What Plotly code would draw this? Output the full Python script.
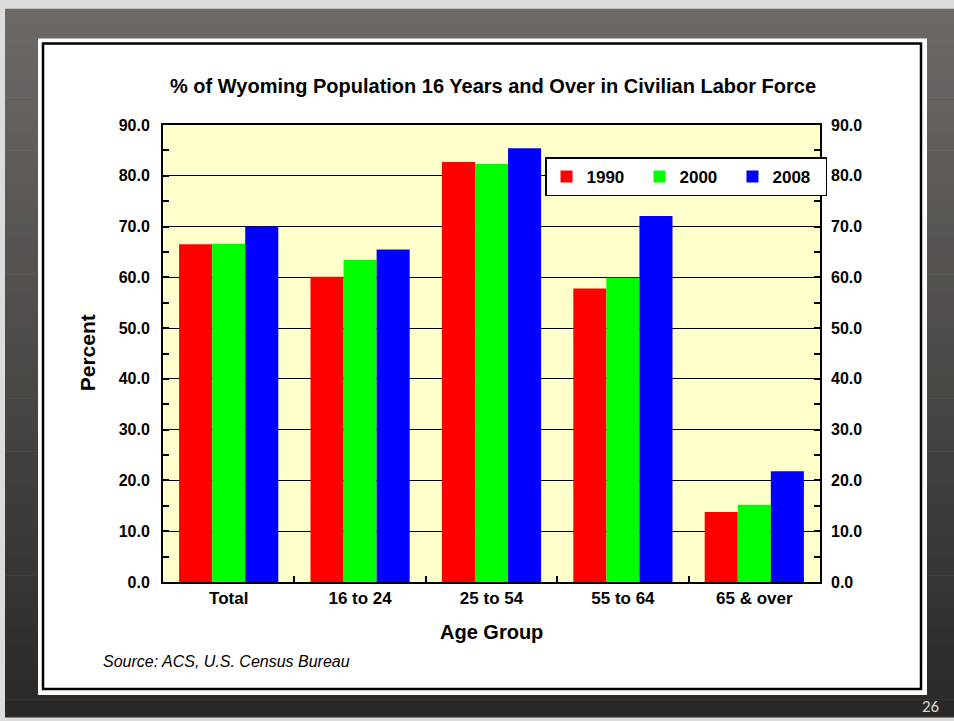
import plotly.graph_objects as go

# Labour force participation, Wyoming, by age group (percent)
categories = ["Total", "16 to 24", "25 to 54", "55 to 64", "65 & over"]
series_names = ["1990", "2000", "2008"]
pct_1990 = [66.5, 60.1, 82.7, 57.8, 13.8]
pct_2000 = [66.6, 63.4, 82.3, 59.9, 15.2]
pct_2008 = [70.0, 65.5, 85.4, 72.1, 21.8]
series_colors = ["#FF0000", "#00FF00", "#0000FF"]
y_tick_values = [0, 10, 20, 30, 40, 50, 60, 70, 80, 90]
y_tick_labels = ["0.0", "10.0", "20.0", "30.0", "40.0", "50.0", "60.0", "70.0", "80.0", "90.0"]

W, H = 954, 721
PL, PR, PT, PB = 163, 820, 124.5, 582  # plot area edges in pixels


def fx(p):
    return (p - PL) / (PR - PL)


def fy(p):
    return (PB - p) / (PB - PT)


FONT = "Arial, 'Liberation Sans', sans-serif"

fig = go.Figure()
for name, vals, col in zip(series_names, [pct_1990, pct_2000, pct_2008], series_colors):
    fig.add_trace(go.Bar(x=categories, y=vals, name=name, marker=dict(color=col, line=dict(width=0)),
                         hoverinfo="skip"))

# invisible trace so the right-hand axis is drawn
fig.add_trace(go.Scatter(x=categories, y=pct_2008, yaxis="y2", mode="markers",
                         marker=dict(opacity=0), showlegend=False, hoverinfo="skip"))

shapes = []
# slide background: light frame, then dark vertical gradient
top_c = (0x6e, 0x69, 0x65)
bot_c = (0x2b, 0x28, 0x26)
y0, y1 = 8, 717
n = 40
for i in range(n):
    t = i / (n - 1)
    c = tuple(int(round(a + (b - a) * t)) for a, b in zip(top_c, bot_c))
    ya = y0 + (y1 - y0) * i / n
    yb = y0 + (y1 - y0) * (i + 1) / n + 0.6
    shapes.append(dict(type="rect", xref="paper", yref="paper", layer="below",
                       x0=fx(5), x1=fx(W + 5), y0=fy(ya), y1=fy(yb),
                       fillcolor="rgb(%d,%d,%d)" % c, line=dict(width=0)))
# white panel with black frame
shapes.append(dict(type="rect", xref="paper", yref="paper", layer="below",
                   x0=fx(38), x1=fx(927), y0=fy(38), y1=fy(695),
                   fillcolor="white", line=dict(width=0)))
shapes.append(dict(type="rect", xref="paper", yref="paper", layer="below",
                   x0=fx(43), x1=fx(921), y0=fy(43), y1=fy(689),
                   fillcolor="white", line=dict(color="black", width=2.5)))
# plot area fill
shapes.append(dict(type="rect", xref="paper", yref="paper", layer="below",
                   x0=0, x1=1, y0=0, y1=1, fillcolor="#FFFFCC", line=dict(width=0)))

annotations = [
    dict(text="<b>% of Wyoming Population 16 Years and Over in Civilian Labor Force</b>",
         x=fx(492.5), y=fy(85), xref="paper", yref="paper", showarrow=False,
         xanchor="center", yanchor="middle", font=dict(family=FONT, size=20, color="black")),
    dict(text="<b>Age Group</b>", x=fx(491.5), y=fy(632), xref="paper", yref="paper",
         showarrow=False, xanchor="center", yanchor="middle",
         font=dict(family=FONT, size=20, color="black")),
    dict(text="<b>Percent</b>", x=fx(87), y=fy(353), xref="paper", yref="paper",
         showarrow=False, xanchor="center", yanchor="middle", textangle=-90,
         font=dict(family=FONT, size=21, color="black")),
    dict(text="<i>Source: ACS, U.S. Census Bureau</i>", x=fx(101), y=fy(662), xref="paper",
         yref="paper", showarrow=False, xanchor="left", yanchor="middle",
         font=dict(family=FONT, size=16, color="black")),
    dict(text="26", x=fx(942), y=fy(707), xref="paper", yref="paper", showarrow=False,
         xanchor="right", yanchor="middle",
         font=dict(family="Calibri, Carlito, 'Liberation Sans', sans-serif", size=17, color="#d9d9d9")),
]

axis_font = dict(family=FONT, size=16, color="black", weight="bold")
cat_font = dict(family=FONT, size=17, color="black", weight="bold")

fig.update_layout(
    width=W, height=H, autosize=False,
    margin=dict(l=PL, r=W - PR, t=PT, b=H - PB, pad=0, autoexpand=False),
    paper_bgcolor="#dcdcdc", plot_bgcolor="rgba(0,0,0,0)",
    barmode="group", bargap=0.245, bargroupgap=0,
    shapes=shapes, annotations=annotations,
    showlegend=True,
    legend=dict(orientation="h", x=fx(545), y=fy(157), xanchor="left", yanchor="top",
                bgcolor="white", bordercolor="black", borderwidth=1.5,
                font=dict(family=FONT, size=17, color="black", weight="bold"),
                entrywidth=48, entrywidthmode="pixels", traceorder="normal",
                itemclick=False, itemdoubleclick=False, tracegroupgap=0),
    xaxis=dict(showline=True, linecolor="black", linewidth=2, mirror=True,
               ticks="inside", tickson="boundaries", ticklen=6, tickcolor="black", tickwidth=1.5,
               tickfont=cat_font, showgrid=False, fixedrange=True),
    yaxis=dict(range=[0, 90], tickvals=y_tick_values, ticktext=y_tick_labels,
               showline=True, linecolor="black", linewidth=2, mirror=True,
               ticks="inside", ticklen=6, tickcolor="black", tickwidth=1.5,
               showgrid=True, gridcolor="black", gridwidth=1, zeroline=False,
               minor=dict(ticks="inside", dtick=5, ticklen=6, tickcolor="black", tickwidth=1.5, showgrid=False),
               tickfont=axis_font, ticklabelstandoff=8, fixedrange=True),
    yaxis2=dict(range=[0, 90], overlaying="y", side="right", anchor="x",
                tickvals=y_tick_values, ticktext=y_tick_labels,
                showline=False, ticks="inside", ticklen=6, tickcolor="black", tickwidth=1.5,
                minor=dict(ticks="inside", dtick=5, ticklen=6, tickcolor="black", tickwidth=1.5),
                showgrid=False, zeroline=False, tickfont=axis_font, ticklabelstandoff=10,
                fixedrange=True),
)

fig.write_html("out.html")
